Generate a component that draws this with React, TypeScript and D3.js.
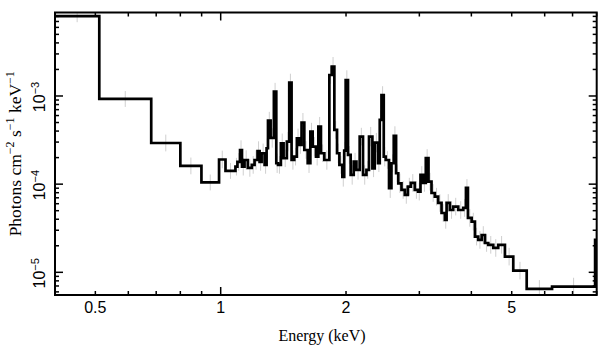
import React from "react";
import * as d3 from "d3";

// Bin edges (keV) and model flux (photons cm^-2 s^-1 keV^-1)
const edges = [
  0.4, 0.511, 0.681, 0.8, 0.899, 0.991, 1.027, 1.085, 1.097, 1.113,
  1.125, 1.141, 1.162, 1.188, 1.206, 1.226, 1.24, 1.254, 1.275, 1.289,
  1.299, 1.318, 1.342, 1.36, 1.373, 1.395, 1.416, 1.442, 1.461, 1.48,
  1.502, 1.524, 1.544, 1.564, 1.588, 1.618, 1.642, 1.663, 1.694, 1.716,
  1.741, 1.774, 1.824, 1.848, 1.875, 1.903, 1.928, 1.96, 1.98, 1.996,
  2.022, 2.052, 2.087, 2.118, 2.157, 2.197, 2.239, 2.271, 2.314, 2.344,
  2.387, 2.41, 2.433, 2.464, 2.491, 2.537, 2.571, 2.604, 2.638, 2.67,
  2.718, 2.768, 2.815, 2.862, 2.925, 2.979, 3.019, 3.063, 3.109, 3.156,
  3.209, 3.268, 3.329, 3.392, 3.455, 3.488, 3.552, 3.618, 3.72, 3.824,
  3.882, 3.925, 4.006, 4.08, 4.155, 4.234, 4.312, 4.392, 4.515, 4.641,
  4.816, 5.043, 5.432, 6.25, 7.93, 8.0,
];

const flux = [
  8.07e-3, 9.25e-4, 2.93e-4, 1.61e-4, 1.045e-4, 1.905e-4, 1.413e-4, 1.578e-4, 1.787e-4, 2.44e-4,
  1.578e-4, 1.879e-4, 1.528e-4, 1.652e-4, 1.879e-4, 2.377e-4, 1.787e-4, 2.24e-4, 1.652e-4, 2.553e-4,
  5.25e-4, 3.342e-4, 1.119e-3, 1.726e-4, 1.652e-4, 2.91e-4, 1.966e-4, 3.034e-4, 1.422e-3, 1.879e-4,
  2.05e-4, 3.31e-4, 2.781e-4, 4.98e-4, 2.44e-4, 1.726e-4, 3.94e-4, 2.66e-4, 2.05e-4, 4.49e-4,
  2.24e-4, 1.879e-4, 1.73e-3, 2.15e-3, 4.12e-4, 2.24e-4, 1.652e-4, 1.208e-4, 2.4e-4, 1.518e-3,
  2.143e-4, 1.271e-4, 1.8e-4, 1.449e-4, 3.46e-4, 1.271e-4, 1.449e-4, 3.46e-4, 1.513e-4, 2.96e-4,
  1.726e-4, 5.35e-4, 1.026e-3, 2.05e-4, 1.879e-4, 8.99e-5, 1.726e-4, 3.52e-4, 1.33e-4, 1.023e-4,
  8.59e-5, 7.55e-5, 9.38e-5, 1.033e-4, 8.59e-5, 8.22e-5, 1.271e-4, 1.033e-4, 1.98e-4, 1.067e-4,
  7.94e-5, 7.21e-5, 6.12e-5, 4.71e-5, 3.93e-5, 6.12e-5, 5.09e-5, 5.56e-5, 5.09e-5, 5.37e-5,
  9.06e-5, 4.14e-5, 3.76e-5, 2.54e-5, 2.33e-5, 2.65e-5, 2.15e-5, 2.05e-5, 1.89e-5, 2.05e-5,
  1.507e-5, 1.045e-5, 6.49e-6, 6.89e-6, 2.33e-5,
];

// Half-length of the grey error bars (dex)
const errDex = [
  0.07, 0.09, 0.095, 0.095, 0.09, 0.1, 0.09, 0.1, 0.1, 0.11,
  0.1, 0.11, 0.1, 0.1, 0.11, 0.11, 0.1, 0.11, 0.1, 0.11,
  0.1, 0.11, 0.1, 0.11, 0.1, 0.11, 0.1, 0.11, 0.1, 0.11,
  0.1, 0.11, 0.1, 0.11, 0.1, 0.11, 0.1, 0.11, 0.1, 0.11,
  0.1, 0.11, 0.1, 0.11, 0.1, 0.11, 0.1, 0.11, 0.1, 0.11,
  0.1, 0.11, 0.1, 0.11, 0.1, 0.11, 0.1, 0.11, 0.1, 0.11,
  0.1, 0.11, 0.1, 0.11, 0.1, 0.11, 0.1, 0.11, 0.1, 0.11,
  0.1, 0.1, 0.1, 0.1, 0.1, 0.1, 0.1, 0.1, 0.1, 0.1,
  0.1, 0.1, 0.1, 0.1, 0.1, 0.1, 0.1, 0.1, 0.1, 0.1,
  0.1, 0.1, 0.1, 0.1, 0.1, 0.1, 0.1, 0.1, 0.1, 0.1,
  0.1, 0.1, 0.1, 0.1, 0.1,
];

const xTickLabels = [0.5, 1, 2, 5];
const yTickLabels = [
  { v: 1e-3, exp: "−3" },
  { v: 1e-4, exp: "−4" },
  { v: 1e-5, exp: "−5" },
];
const xDomain = [0.4, 8];
const yDomain = [5.53e-6, 8.85e-3];

const W = 609;
const H = 357;
const L = 55;
const R = 596.7;
const T = 12.5;
const B = 295;

const isDecade = (v: number) => Math.abs(Math.log10(v) - Math.round(Math.log10(v))) < 1e-6;

export default function App() {
  const x = d3.scaleLog().domain(xDomain).range([L, R]);
  const y = d3.scaleLog().domain(yDomain).range([B, T]);

  const nb = Math.min(flux.length, edges.length - 1);
  const pts: [number, number][] = [];
  for (let i = 0; i < nb; i++) pts.push([edges[i], flux[i]]);
  pts.push([edges[nb], flux[nb - 1]]);
  const step = d3
    .line<[number, number]>()
    .x((d) => x(d[0]))
    .y((d) => y(d[1]))
    .curve(d3.curveStepAfter)(pts);

  const xt = x.ticks(20).filter((v) => v >= xDomain[0] - 1e-9 && v <= xDomain[1] + 1e-9);
  const yt = y.ticks(30);

  const sans = "'Liberation Sans', Arial, Helvetica, sans-serif";
  const serif = "'Liberation Serif', 'Times New Roman', Times, serif";

  return (
    <svg
      width={W}
      height={H}
      viewBox={`0 0 ${W} ${H}`}
      style={{ position: "absolute", left: 0, top: 0, background: "#fff" }}
    >
      <defs>
        <clipPath id="plotclip">
          <rect x={L} y={T} width={R - L} height={B - T} />
        </clipPath>
      </defs>
      <rect x={0} y={0} width={W} height={H} fill="#fff" />

      <g clipPath="url(#plotclip)">
        {flux.slice(0, nb).map((f, i) => {
          const c = Math.sqrt(edges[i] * edges[i + 1]);
          const e = errDex[i] ?? 0.1;
          return (
            <line
              key={i}
              x1={x(c)}
              x2={x(c)}
              y1={y(f * Math.pow(10, e))}
              y2={y(f / Math.pow(10, e))}
              stroke="#cfcfcf"
              strokeWidth={1}
            />
          );
        })}
        <path d={step || ""} fill="none" stroke="#000" strokeWidth={2.7} strokeLinejoin="miter" />
      </g>

      {/* ticks */}
      <g stroke="#000" strokeWidth={1.5}>
        {xt.map((v, i) => {
          const len = isDecade(v) ? 8 : 4;
          const px = x(v);
          return (
            <g key={"xt" + i}>
              <line x1={px} x2={px} y1={B} y2={B - len} />
              <line x1={px} x2={px} y1={T} y2={T + len} />
            </g>
          );
        })}
        {yt.map((v, i) => {
          const len = isDecade(v) ? 8 : 4;
          const py = y(v);
          return (
            <g key={"yt" + i}>
              <line x1={L} x2={L + len} y1={py} y2={py} />
              <line x1={R} x2={R - len} y1={py} y2={py} />
            </g>
          );
        })}
      </g>

      {/* frame */}
      <rect x={L} y={T} width={R - L} height={B - T} fill="none" stroke="#000" strokeWidth={2} />

      {/* x tick labels */}
      {xTickLabels.map((v) => (
        <text
          key={"xl" + v}
          x={x(v)}
          y={313.3}
          textAnchor="middle"
          fontFamily={sans}
          fontSize={16}
          fill="#000"
        >
          {String(v)}
        </text>
      ))}

      {/* y tick labels */}
      {yTickLabels.map((t) => (
        <text
          key={"yl" + t.exp}
          transform={`translate(45,${y(t.v) + 1}) rotate(-90)`}
          textAnchor="middle"
          fontFamily={sans}
          fontSize={16}
          fill="#000"
        >
          10
          <tspan dy={-6} fontSize={11}>
            {t.exp}
          </tspan>
        </text>
      ))}

      {/* axis titles */}
      <text x={322} y={341} textAnchor="middle" fontFamily={serif} fontSize={16} fill="#000">
        Energy (keV)
      </text>
      <text
        transform={`translate(21,${(T + B) / 2}) rotate(-90)`}
        textAnchor="middle"
        fontFamily={serif}
        fontSize={17.5}
        fill="#000"
      >
        Photons cm
        <tspan dy={-7} fontSize={12}>−2</tspan>
        <tspan dy={7}> s</tspan>
        <tspan dy={-7} fontSize={12}>−1</tspan>
        <tspan dy={7}> keV</tspan>
        <tspan dy={-7} fontSize={12}>−1</tspan>
      </text>
    </svg>
  );
}
